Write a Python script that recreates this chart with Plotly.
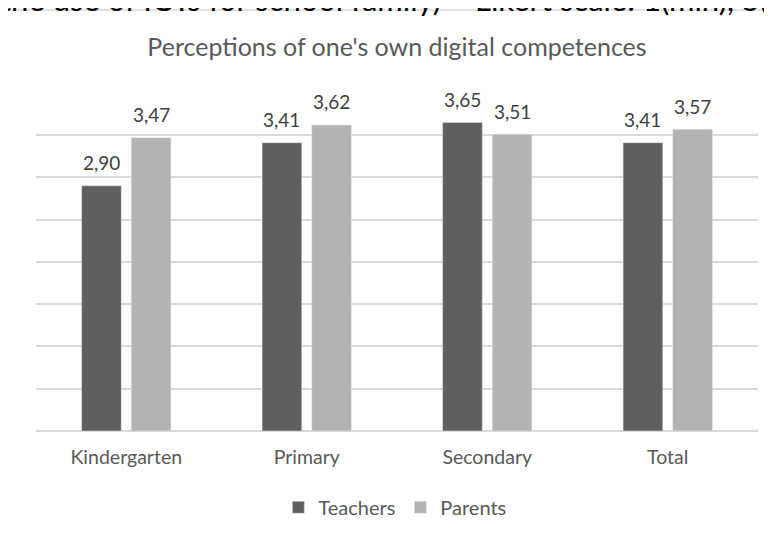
import plotly.graph_objects as go

categories = ['Kindergarten', 'Primary', 'Secondary', 'Total']
teachers = [2.90, 3.41, 3.65, 3.41]
parents = [3.47, 3.62, 3.51, 3.57]

font = 'Lato'
bargap = 0.45
fig = go.Figure()
fig.add_trace(go.Bar(x=categories, y=teachers, name='Teachers', marker_color='#5f5f5f'))
fig.add_trace(go.Bar(x=categories, y=parents, name='Parents', marker_color='#b3b3b3'))

# data labels above bars
off = (1 - bargap) / 4
for i, vals in enumerate([teachers, parents]):
    for j, v in enumerate(vals):
        fig.add_annotation(x=j + (-off if i == 0 else off), y=v, xref='x', yref='y',
                           text=f'{v:.2f}'.replace('.', ','), showarrow=False,
                           yanchor='middle', yshift=23,
                           font=dict(family=font, size=19, color='#404040'))

# caption line from the page above, cut by the crop
fig.add_annotation(x=-0.052, y=(431 - 20) / 339, xref='paper', yref='paper',
                   xanchor='left', yanchor='bottom',
                   text='the use of ICTs for school family) – Likert scale: 1(min), 5(max)',
                   showarrow=False, font=dict(family=font, size=31, color='#000000'))

fig.add_shape(type='rect', xref='paper', yref='paper', x0=-0.0443, x1=1.05, y0=-0.36, y1=1.242,
              line=dict(color='#d9d9d9', width=1.5), fillcolor='rgba(0,0,0,0)', layer='below')

# page body has an 8px margin, so the figure is 8px smaller than the window
fig.update_layout(
    width=764, height=528,
    margin=dict(l=28, r=14, t=84, b=105, autoexpand=False),
    paper_bgcolor='white', plot_bgcolor='white',
    barmode='group', bargap=bargap, bargroupgap=0.2,
    title=dict(text="Perceptions of one's own digital competences", x=0.5, xref='paper',
               y=1 - 39 / 528, yanchor='middle',
               font=dict(family=font, size=25, color='#595959')),
    legend=dict(orientation='h', x=0.497, xanchor='center', y=-0.225, yanchor='middle',
                font=dict(family=font, size=20, color='#595959'), itemwidth=30),
    showlegend=True,
)
fig.update_yaxes(range=[0, 4.01], dtick=0.5, showticklabels=False, showgrid=True,
                 gridcolor='#d9d9d9', gridwidth=1.5, zeroline=True, zerolinecolor='#d9d9d9',
                 zerolinewidth=1.5, automargin=False)
fig.update_xaxes(tickfont=dict(family=font, size=19.5, color='#595959'), ticks='', showline=False,
                 ticklabelstandoff=12, automargin=False)

fig.write_html("out.html")
